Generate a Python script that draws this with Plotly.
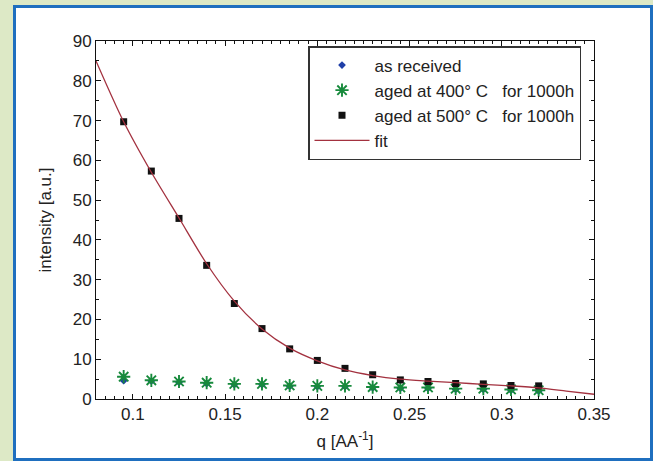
import plotly.graph_objects as go

# ---- data ----
q_points = [0.095, 0.11, 0.125, 0.14, 0.155, 0.17, 0.185, 0.2, 0.215, 0.23,
            0.245, 0.26, 0.275, 0.29, 0.305, 0.32]
as_received = [4.6, 4.5, 4.2, 3.9, 3.6, 3.6, 3.2, 3.1, 3.1, 2.8,
               2.7, 2.7, 2.4, 2.4, 2.2, 2.0]
aged_400 = [5.6, 4.7, 4.4, 4.1, 3.8, 3.8, 3.4, 3.3, 3.3, 3.0,
            2.9, 2.9, 2.6, 2.6, 2.4, 2.2]
aged_500 = [69.7, 57.3, 45.4, 33.6, 24.0, 17.7, 12.6, 9.7, 7.7, 6.1,
            4.8, 4.4, 3.9, 3.8, 3.4, 3.3]
q_fit = [0.08, 0.095, 0.11, 0.125, 0.14, 0.155, 0.17, 0.185, 0.2, 0.215,
         0.23, 0.245, 0.26, 0.275, 0.29, 0.305, 0.32, 0.335, 0.35]
i_fit = [85.0, 69.7, 57.0, 45.5, 34.0, 24.6, 17.6, 12.8, 9.6, 7.3,
         5.9, 5.0, 4.5, 4.1, 3.7, 3.3, 2.8, 2.0, 1.2]

x_ticks = [0.1, 0.15, 0.2, 0.25, 0.3, 0.35]
x_ticklabels = ["0.1", "0.15", "0.2", "0.25", "0.3", "0.35"]
y_ticks = [0, 10, 20, 30, 40, 50, 60, 70, 80, 90]

FONT = "Liberation Sans, Arial, sans-serif"
NB = "\u00a0"

fig = go.Figure()
fig.add_trace(go.Scatter(
    x=q_points, y=as_received, mode="markers", name="as received",
    legendgroup="a",
    marker=dict(symbol="diamond", size=6, color="#1f3fa8")))
fig.add_trace(go.Scatter(
    x=q_points, y=aged_400, mode="markers",
    name=f"aged at 400°{NB}C{NB}{NB}{NB}for 1000h", legendgroup="b",
    marker=dict(symbol="asterisk-open", size=11, color="#178a3c",
                line=dict(color="#178a3c", width=1.9))))
fig.add_trace(go.Scatter(
    x=q_points, y=aged_500, mode="markers",
    name=f"aged at 500°{NB}C{NB}{NB}{NB}for 1000h", legendgroup="c",
    marker=dict(symbol="square", size=7, color="#111111")))
fig.add_trace(go.Scatter(
    x=q_fit, y=i_fit, mode="lines", name="fit", legendgroup="d",
    line=dict(color="#a3313f", width=1.3, shape="spline", smoothing=0.8)))

# frame geometry in paper coords
L, R, T, B = 96, 594, 41, 399
W, H = R - L, B - T
def px(x):
    return (x - L) / W
def py(y):
    return (B - y) / H

fig.add_shape(type="rect", xref="paper", yref="paper",
              x0=px(14.5), x1=px(651.5), y0=py(459.5), y1=py(6.5),
              fillcolor="white", line=dict(color="#1f6fbf", width=3),
              layer="below")

axis_common = dict(
    showline=True, linecolor="#111111", linewidth=1, mirror="ticks",
    ticks="inside", ticklen=5, tickcolor="#111111", tickwidth=1,
    showgrid=False, zeroline=False,
    tickfont=dict(family=FONT, size=17, color="#222222"),
)

fig.update_xaxes(
    range=[0.08, 0.35], tickvals=x_ticks, ticktext=x_ticklabels,
    minor=dict(dtick=0.005, ticks="inside", ticklen=3, tickcolor="#111111",
               showgrid=False),
    title=dict(text="q [AA<sup>-1</sup>]", font=dict(family=FONT, size=17, color="#222222"),
               standoff=11),
    **axis_common)
fig.update_yaxes(
    range=[0, 90], tickvals=y_ticks,
    minor=dict(dtick=5, ticks="inside", ticklen=3, tickcolor="#111111",
               showgrid=False),
    title=dict(text="intensity [a.u.]", font=dict(family=FONT, size=17, color="#222222"),
               standoff=16),
    **axis_common)

fig.update_layout(
    width=653, height=461,
    margin=dict(l=L, r=653 - R, t=T, b=461 - B),
    paper_bgcolor="#dde9c6", plot_bgcolor="white",
    showlegend=True,
    legend=dict(x=px(308), y=py(46), xanchor="left", yanchor="top",
                bgcolor="white", bordercolor="#333333", borderwidth=1.5,
                font=dict(family=FONT, size=17, color="#222222"),
                itemwidth=55, tracegroupgap=0, traceorder="grouped"),
    font=dict(family=FONT),
)

fig.write_html("out.html", config={"displayModeBar": False},
               post_script="document.body.style.margin='0';document.body.style.overflow='hidden';")
